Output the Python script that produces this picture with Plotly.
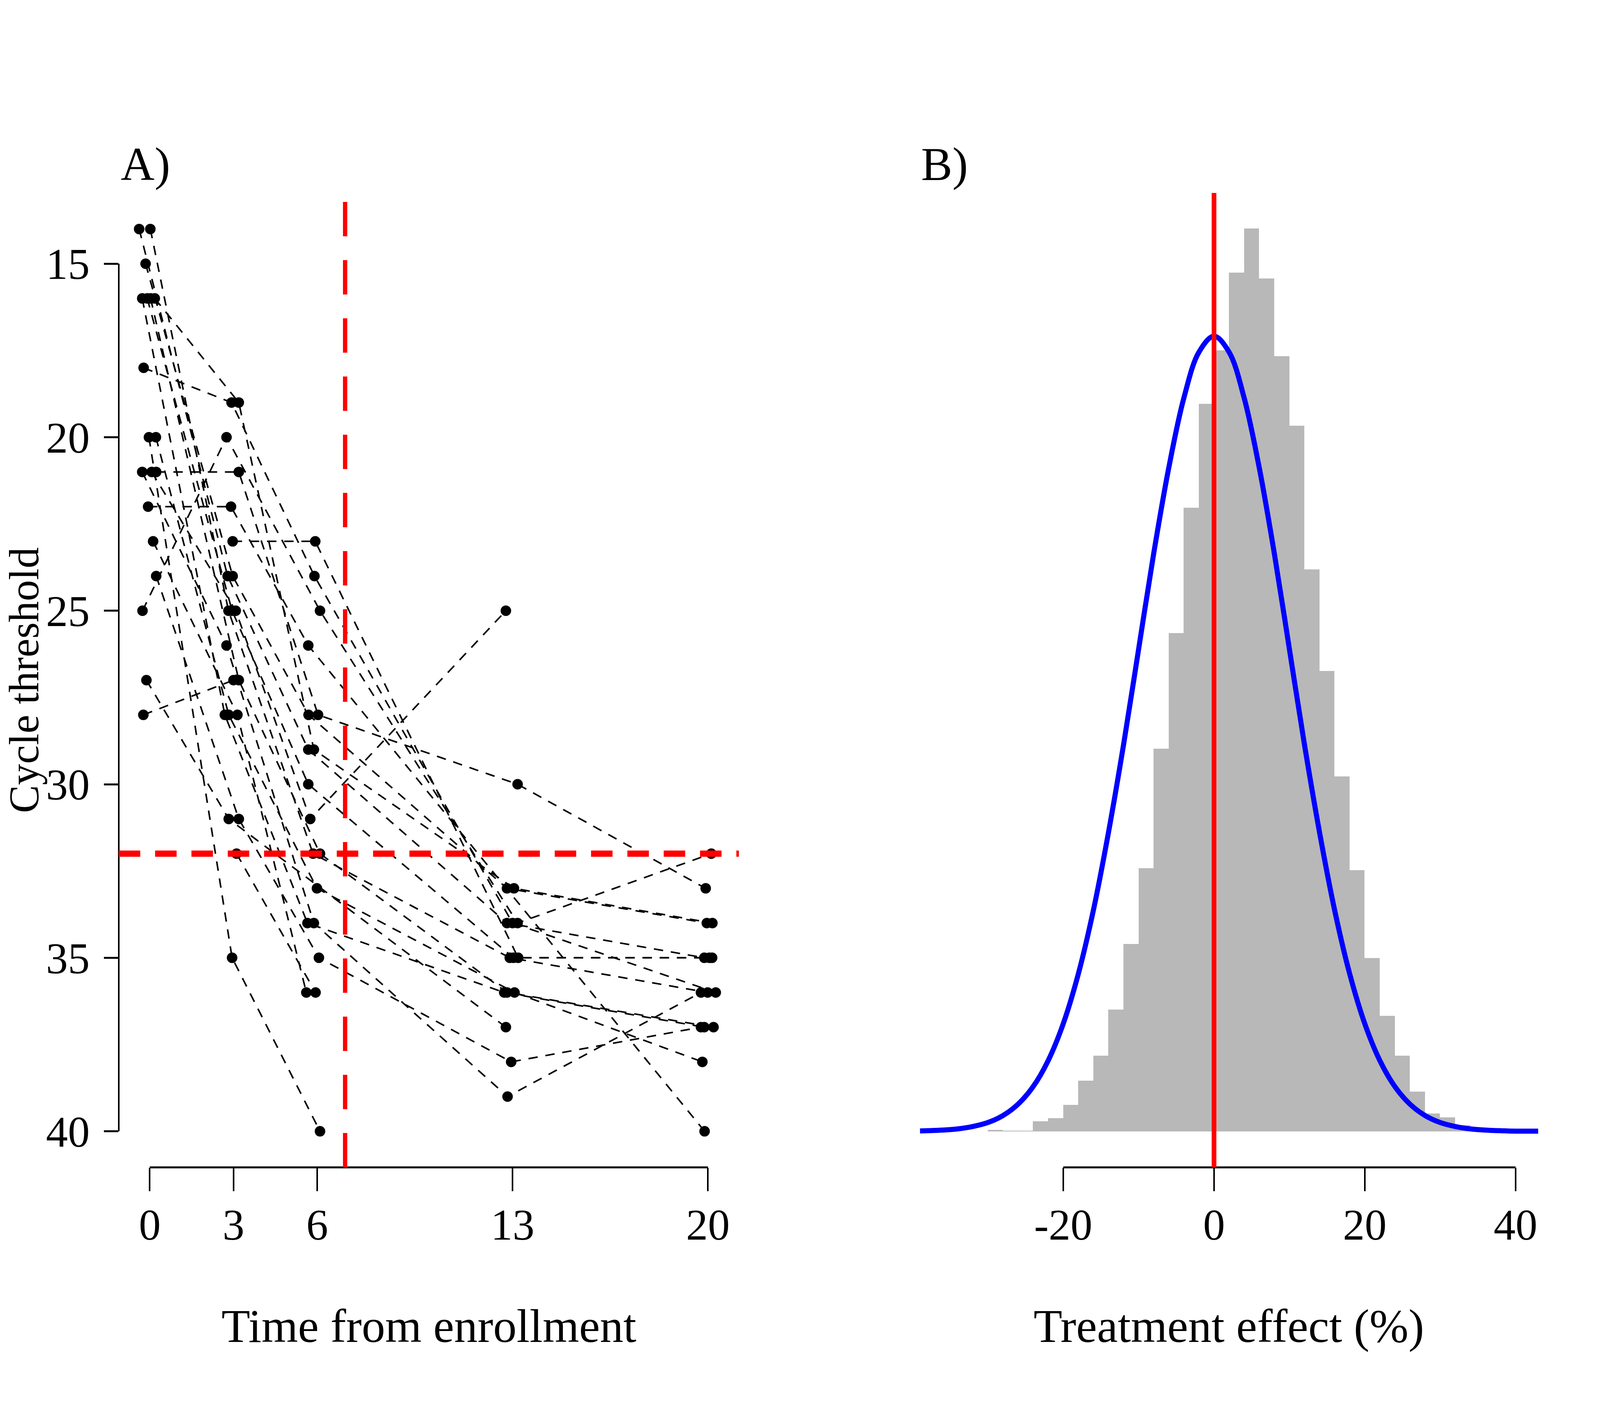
import plotly.graph_objects as go

# the browser window reports 4096x3600, so the figure fills that; positions are
# taken from the 6600x3600 reference and kept proportional
W, H = 4096, 3600
REF_W = 6600
FONT = "Liberation Serif"

# ------------------------- Panel A data -------------------------
# one row per plotted point; day is the jittered x position as drawn
subject = [1, 1, 1, 1, 1,
           2, 2, 2, 2, 2,
           3, 3, 3, 3, 3,
           4, 4, 4, 4, 4,
           5, 5, 5, 5, 5,
           6, 6, 6, 6, 6,
           7, 7, 7, 7, 7,
           8, 8, 8, 8, 8,
           9, 9, 9,
           10, 10, 10, 10, 10,
           11, 11, 11, 11, 11,
           12, 12, 12, 12,
           13, 13, 13, 13, 13,
           14, 14, 14, 14,
           15, 15, 15,
           16, 16, 16, 16, 16,
           17, 17, 17, 17, 17,
           18, 18, 18,
           19, 19,
           20, 20, 20, 20,
           21, 21]
day = [-0.38, 2.79, 5.68, 12.80, 19.87,
       0.02, 2.82, 5.85, 12.90, 19.99,
       -0.15, 2.97, 5.69, 12.80, 19.96,
       -0.27, 2.69, 5.65, 12.70, 19.87,
       -0.09, 2.95, 5.68, 13.03, 20.05,
       0.03, 3.19, 6.10, 12.80, 20.20,
       0.18, 3.19, 5.88, 13.05, 20.16,
       -0.22, 2.93, 5.90, 13.00, 20.28,
       -0.03, 2.95, 6.10,
       0.22, 2.83, 5.99, 13.07, 19.80,
       -0.27, 2.75, 5.88, 12.82, 19.75,
       0.07, 3.08, 5.75, 12.76,
       0.23, 3.19, 6.03, 13.18, 19.92,
       -0.06, 2.91, 5.68, 19.88,
       0.12, 3.14, 5.61,
       0.23, 3.19, 6.06, 12.95, 19.75,
       -0.26, 2.75, 6.10, 13.18, 20.12,
       -0.12, 2.83, 12.76,
       -0.23, 3.00,
       2.97, 5.93, 13.20, 20.15,
       3.11, 5.94]
ct = [14, 24, 29, 34, 35,
      14, 25, 32, 35, 36,
      15, 24, 28, 33, 34,
      16, 28, 34, 36, 37,
      16, 25, 30, 35, 35,
      16, 27, 32, 36, 37,
      16, 19, 29, 33, 34,
      18, 19, 24, 34, 36,
      20, 35, 40,
      20, 28, 33, 36, 38,
      21, 26, 34, 39, 36,
      21, 25, 31, 25,
      21, 21, 28, 30, 33,
      22, 22, 26, 40,
      23, 28, 36,
      24, 31, 35, 38, 37,
      25, 20, 25, 34, 32,
      27, 31, 37,
      28, 27,
      23, 23, 35, 35,
      32, 36]

time_ticks = [0, 3, 6, 13, 20]
ct_ticks = [15, 20, 25, 30, 35, 40]
ct_cutoff = 32
day_cutoff = 7

# ------------------------- Panel B data -------------------------
bin_left = [-30, -28, -26, -24, -22, -20, -18, -16, -14, -12, -10, -8, -6, -4, -2,
            0, 2, 4, 6, 8, 10, 12, 14, 16, 18, 20, 22, 24, 26, 28, 30, 32, 34]
density = [0.00008, 0.00003, 0.00004, 0.0005, 0.00066, 0.00133, 0.00255, 0.0038,
           0.0061, 0.0094, 0.0132, 0.0192, 0.0250, 0.0313, 0.0365,
           0.0392, 0.0431, 0.0453, 0.0428, 0.0389, 0.0354, 0.0282, 0.0231,
           0.0178, 0.0131, 0.0087, 0.0058, 0.0038, 0.0020, 0.0009, 0.0007,
           0.0003, 0.0001]
bin_width = 2

curve_x = [-39, -38, -36, -34, -32, -30, -28, -26, -24, -22, -20, -18, -16, -14, -12,
           -10, -8, -6, -4, -2, 0, 2, 4, 6, 8, 10, 12, 14, 16, 18, 20, 22, 24, 26,
           28, 30, 32, 34, 36, 38, 40, 42, 43]
curve_y = [0.00002, 0.00003, 0.00006, 0.00012, 0.00024, 0.00044, 0.00079, 0.00136,
           0.00224, 0.00355, 0.0054, 0.0079, 0.0111, 0.0150, 0.0194,
           0.0242, 0.0290, 0.0333, 0.0368, 0.0391, 0.0399, 0.0391, 0.0368, 0.0333,
           0.0290, 0.0242, 0.0194, 0.0150, 0.0111, 0.0079, 0.0054, 0.00355,
           0.00224, 0.00136, 0.00079, 0.00044, 0.00024, 0.00012, 0.00006,
           0.00003, 0.00001, 0.00001, 0.00001]
effect_ticks = [-20, 0, 20, 40]

# ------------------------- Layout geometry -------------------------
def px(x):  # reference x pixel -> paper
    return x / REF_W

def py(y):  # reference y pixel -> paper
    return 1 - y / H

A_L, A_R = 490, 3048
B_L, B_R = 3792, 6348
P_T, P_B = 494, 2989
SX = W / REF_W

fig = go.Figure()

# subject trajectories
for s in sorted(set(subject)):
    xs = [d for d, k in zip(day, subject) if k == s]
    ys = [c for c, k in zip(ct, subject) if k == s]
    fig.add_trace(go.Scatter(
        x=xs, y=ys, mode="lines",
        line=dict(color="black", width=4, dash="24px,20px"),
        hoverinfo="skip", showlegend=False, xaxis="x", yaxis="y"))

fig.add_trace(go.Scatter(
    x=day, y=ct, mode="markers",
    marker=dict(color="black", size=27, line=dict(width=0)),
    showlegend=False, xaxis="x", yaxis="y"))

# histogram of treatment effect
fig.add_trace(go.Bar(
    x=[b + bin_width / 2 for b in bin_left], y=density, width=bin_width,
    marker=dict(color="#B8B8B8", line=dict(width=0)),
    showlegend=False, xaxis="x2", yaxis="y2"))

fig.add_trace(go.Scatter(
    x=curve_x, y=curve_y, mode="lines",
    line=dict(color="#0000FF", width=13, shape="spline"),
    showlegend=False, xaxis="x2", yaxis="y2"))

shapes = [
    # R-style axis lines (span first to last tick)
    dict(type="line", xref="x domain", yref="y", x0=0, x1=0, y0=15, y1=40,
         line=dict(color="black", width=4)),
    dict(type="line", xref="x", yref="y domain", x0=0, x1=20, y0=0, y1=0,
         line=dict(color="black", width=5)),
    dict(type="line", xref="x2", yref="y2 domain", x0=-20, x1=40, y0=0, y1=0,
         line=dict(color="black", width=5)),
    # cut-off lines
    dict(type="line", xref="x", yref="y domain", x0=day_cutoff, x1=day_cutoff, y0=0, y1=1,
         line=dict(color="#FF0000", width=11, dash="88px,61px")),
    dict(type="line", xref="x domain", yref="y", x0=0, x1=1, y0=ct_cutoff, y1=ct_cutoff,
         line=dict(color="#FF0000", width=16, dash="55px,38px")),
    dict(type="line", xref="x2", yref="y2 domain", x0=0, x1=0, y0=0, y1=1,
         line=dict(color="#FF0000", width=12)),
]

annotations = [
    dict(text="A)", x=px(A_L + 4), y=py(420), xref="paper", yref="paper",
         xanchor="left", yanchor="middle", showarrow=False),
    dict(text="B)", x=px(B_L + 4), y=py(420), xref="paper", yref="paper",
         xanchor="left", yanchor="middle", showarrow=False),
    dict(text="Cycle threshold", textangle=-90, x=0, y=py((P_T + P_B) / 2),
         xref="paper", yref="paper", xanchor="left", yanchor="middle",
         font=dict(size=108), showarrow=False),
    dict(text="Time from enrollment", x=px((A_L + A_R) / 2), y=py(3395),
         xref="paper", yref="paper", xanchor="center", yanchor="middle", showarrow=False),
    dict(text="Treatment effect (%)", x=px((B_L + B_R) / 2), y=py(3395),
         xref="paper", yref="paper", xanchor="center", yanchor="middle", showarrow=False),
]

tick_style = dict(ticks="outside", tickcolor="black", tickfont=dict(size=112),
                  showline=False, showgrid=False, zeroline=False)

fig.update_layout(
    width=W, height=H,
    margin=dict(l=0, r=0, t=0, b=0),
    paper_bgcolor="white", plot_bgcolor="white",
    font=dict(family=FONT, size=120, color="black"),
    bargap=0,
    xaxis=dict(domain=[px(A_L), px(A_R)], range=[-1.11, 21.11],
               tickvals=time_ticks, ticklen=60, tickwidth=3.5,
               ticklabelstandoff=-10, **tick_style),
    yaxis=dict(domain=[py(P_B), py(P_T)], range=[41.04, 12.96],
               tickvals=ct_ticks, ticklen=round(60 * SX), tickwidth=4.5,
               ticklabelstandoff=14, **tick_style),
    xaxis2=dict(domain=[px(B_L), px(B_R)], range=[-39.1, 43.1],
                tickvals=effect_ticks, ticktext=[str(v) for v in effect_ticks],
                ticklen=60, tickwidth=3.5, ticklabelstandoff=-10,
                anchor="y2", **tick_style),
    yaxis2=dict(domain=[py(P_B), py(P_T)], range=[-0.00181, 0.04709],
                anchor="x2", visible=False),
    shapes=shapes,
    annotations=annotations,
)

# drop the default page margin; follow the window if it is not 4096x3600
fit_js = """
var gd = document.getElementById('{plot_id}');
document.body.style.margin = '0';
var w = window.innerWidth, h = window.innerHeight;
if (w !== %d || h !== %d) { Plotly.relayout(gd, {width: w, height: h}); }
""" % (W, H)

fig.write_html("out.html", post_script=fit_js, config={"displayModeBar": False})
